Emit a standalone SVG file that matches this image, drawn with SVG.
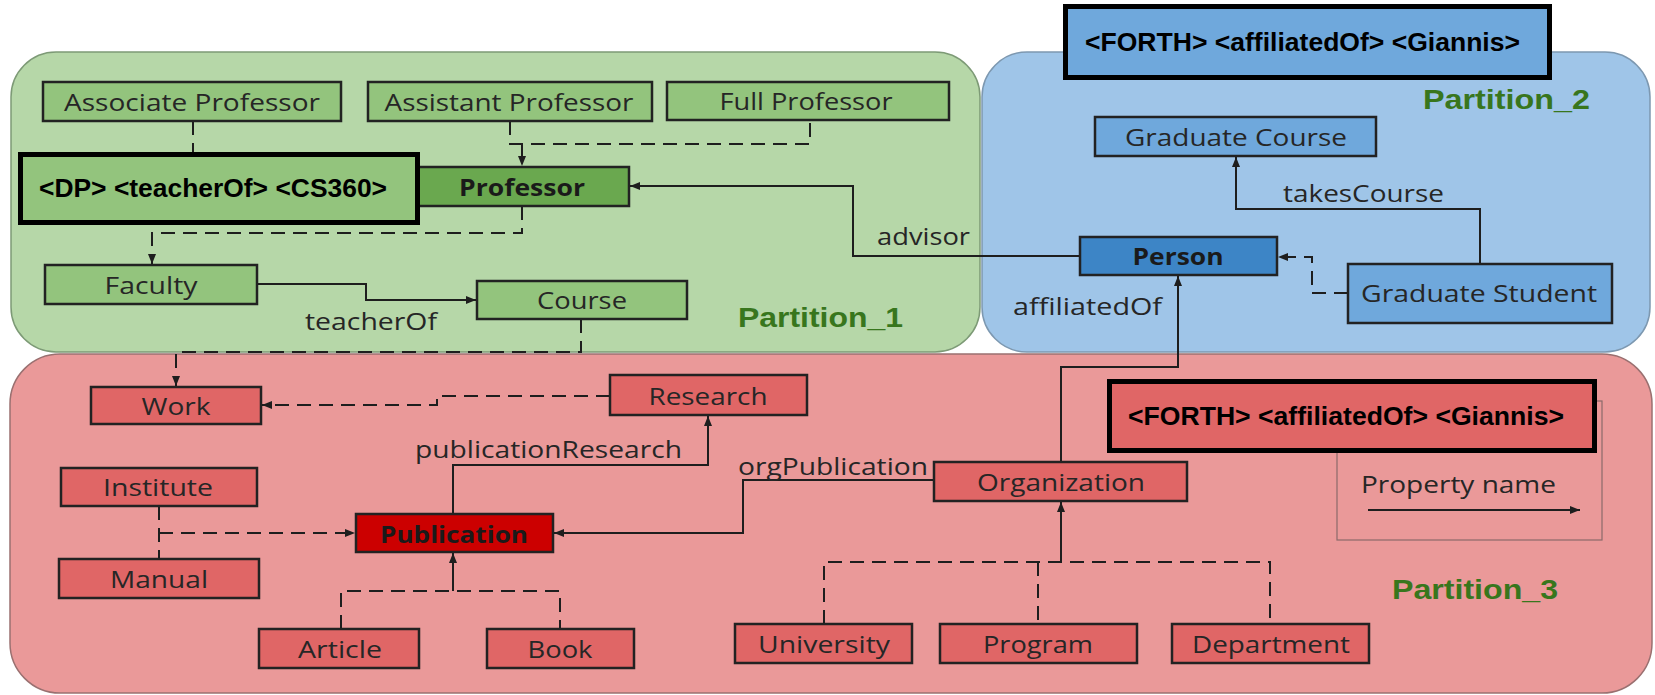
<svg xmlns="http://www.w3.org/2000/svg" width="1655" height="695" viewBox="0 0 1655 695">
<defs>
<style>
.pg{fill:#b6d7a8;stroke:#7d9a76;stroke-width:1.5}
.pb{fill:#9fc5e8;stroke:#7d98b0;stroke-width:1.5}
.pr{fill:#ea9999;stroke:#9a7070;stroke-width:1.5}
.n{stroke:#222;stroke-width:2.5}
.g{fill:#93c47d}.gd{fill:#6aa84f}.b{fill:#6fa8dc}.bd{fill:#3d85c6}.r{fill:#e06666}.rd{fill:#cc0000}
.t{font-family:"Open Sans","Noto Sans",sans-serif;font-size:23px;fill:#262626;text-anchor:middle}
.tb{font-weight:700;fill:#1a1a1a}
.l{font-family:"Open Sans","Noto Sans",sans-serif;font-size:23px;fill:#262626}
.pl{font-family:"Liberation Sans",Arial,sans-serif;font-weight:700;font-size:28px;fill:#38761d}
.ov{stroke:#000;stroke-width:5}
.ot{font-family:"Liberation Sans",Arial,sans-serif;font-weight:700;font-size:26px;fill:#000}
.c{fill:none;stroke:#1e1e1e;stroke-width:2}
.d{stroke-dasharray:14 8}
.a{marker-end:url(#ah)}
</style>
<marker id="ah" viewBox="0 0 10 10" refX="10" refY="5" markerWidth="10" markerHeight="10" markerUnits="userSpaceOnUse" orient="auto"><path d="M0,1 L10,5 L0,9 z" fill="#1e1e1e"/></marker>
</defs>

<g id="partitions">
<rect id="partition1" class="pg" x="11" y="52" width="969" height="300" rx="45"/>
<rect id="partition2" class="pb" x="982" y="52" width="668" height="300" rx="45"/>
<rect id="partition3" class="pr" x="10" y="354" width="1642" height="339" rx="50"/>
<text class="pl" x="738" y="327" textLength="165" lengthAdjust="spacingAndGlyphs">Partition_1</text>
<text class="pl" x="1423" y="109" textLength="167" lengthAdjust="spacingAndGlyphs">Partition_2</text>
<text class="pl" x="1392" y="599" textLength="166" lengthAdjust="spacingAndGlyphs">Partition_3</text>
</g>

<g id="legend">
<rect x="1337" y="401" width="265" height="139" fill="none" stroke="#8a6a6a" stroke-width="1.2"/>
<text class="l" x="1361" y="493" textLength="195" lengthAdjust="spacingAndGlyphs">Property name</text>
<path class="c a" d="M1368,510 H1580"/>
</g>

<g id="connectors">
<path class="c d" d="M510,121 V144 H810 V121"/>
<path class="c d a" d="M522,144 V166"/>
<path class="c d" d="M193,121 V154"/>
<path class="c d a" d="M522,206 V233 H152 V264"/>
<path class="c a" d="M257,284 H366 V300 H476"/>
<text class="l" x="305" y="330" textLength="132" lengthAdjust="spacingAndGlyphs">teacherOf</text>
<path class="c a" d="M1080,256 H853 V186 H630"/>
<text class="l" x="877" y="245" textLength="93" lengthAdjust="spacingAndGlyphs">advisor</text>
<path class="c a" d="M1480,264 V209 H1236 V157"/>
<text class="l" x="1283" y="202" textLength="161" lengthAdjust="spacingAndGlyphs">takesCourse</text>
<path class="c d a" d="M1348,293 H1312 V257 H1278"/>
<path class="c a" d="M1061,462 V367 H1178 V276"/>
<text class="l" x="1013" y="315" textLength="149" lengthAdjust="spacingAndGlyphs">affiliatedOf</text>
<path class="c d a" d="M581,319 V352 H176 V386"/>
<path class="c d a" d="M610,396 H437 V405 H262"/>
<path class="c a" d="M453,514 V465 H708 V416"/>
<text class="l" x="415" y="458" textLength="267" lengthAdjust="spacingAndGlyphs">publicationResearch</text>
<path class="c a" d="M934,480 H743 V533 H554"/>
<text class="l" x="738" y="475" textLength="190" lengthAdjust="spacingAndGlyphs">orgPublication</text>
<path class="c d" d="M159,506 V559"/>
<path class="c d a" d="M159,533 H355"/>
<path class="c d" d="M341,629 V591 H560 V629"/>
<path class="c a" d="M453,591 V553"/>
<path class="c d" d="M824,624 V562 H1270 V624"/>
<path class="c d" d="M1038,562 V624"/>
<path class="c a" d="M1061,562 V502"/>
</g>

<g id="associate-professor"><rect class="n g" x="43" y="82" width="298" height="39"/><text class="t" x="192" y="111" textLength="256" lengthAdjust="spacingAndGlyphs">Associate Professor</text></g>
<g id="assistant-professor"><rect class="n g" x="368" y="82" width="284" height="39"/><text class="t" x="509" y="111" textLength="249" lengthAdjust="spacingAndGlyphs">Assistant Professor</text></g>
<g id="full-professor"><rect class="n g" x="667" y="82" width="282" height="38"/><text class="t" x="806" y="110" textLength="173" lengthAdjust="spacingAndGlyphs">Full Professor</text></g>
<g id="professor"><rect class="n gd" x="415" y="167" width="214" height="39"/><text class="t tb" x="522" y="196" textLength="126" lengthAdjust="spacingAndGlyphs">Professor</text></g>
<g id="faculty"><rect class="n g" x="45" y="265" width="212" height="39"/><text class="t" x="151" y="294" textLength="93" lengthAdjust="spacingAndGlyphs">Faculty</text></g>
<g id="course"><rect class="n g" x="477" y="281" width="210" height="38"/><text class="t" x="582" y="309" textLength="90" lengthAdjust="spacingAndGlyphs">Course</text></g>

<g id="graduate-course"><rect class="n b" x="1095" y="117" width="281" height="39"/><text class="t" x="1236" y="146" textLength="222" lengthAdjust="spacingAndGlyphs">Graduate Course</text></g>
<g id="person"><rect class="n bd" x="1080" y="237" width="197" height="38"/><text class="t tb" x="1178" y="265" textLength="91" lengthAdjust="spacingAndGlyphs">Person</text></g>
<g id="graduate-student"><rect class="n b" x="1348" y="264" width="264" height="59"/><text class="t" x="1479" y="302" textLength="236" lengthAdjust="spacingAndGlyphs">Graduate Student</text></g>

<g id="work"><rect class="n r" x="91" y="387" width="170" height="37"/><text class="t" x="176" y="415" textLength="69" lengthAdjust="spacingAndGlyphs">Work</text></g>
<g id="research"><rect class="n r" x="610" y="375" width="197" height="40"/><text class="t" x="708" y="405" textLength="119" lengthAdjust="spacingAndGlyphs">Research</text></g>
<g id="institute"><rect class="n r" x="61" y="468" width="196" height="38"/><text class="t" x="158" y="496" textLength="110" lengthAdjust="spacingAndGlyphs">Institute</text></g>
<g id="publication"><rect class="n rd" x="356" y="514" width="197" height="38"/><text class="t tb" x="454" y="543" textLength="148" lengthAdjust="spacingAndGlyphs">Publication</text></g>
<g id="manual"><rect class="n r" x="59" y="559" width="200" height="39"/><text class="t" x="159" y="588" textLength="98" lengthAdjust="spacingAndGlyphs">Manual</text></g>
<g id="article"><rect class="n r" x="259" y="629" width="160" height="39"/><text class="t" x="340" y="658" textLength="84" lengthAdjust="spacingAndGlyphs">Article</text></g>
<g id="book"><rect class="n r" x="487" y="629" width="147" height="39"/><text class="t" x="560" y="658" textLength="65" lengthAdjust="spacingAndGlyphs">Book</text></g>
<g id="organization"><rect class="n r" x="934" y="462" width="253" height="39"/><text class="t" x="1061" y="491" textLength="168" lengthAdjust="spacingAndGlyphs">Organization</text></g>
<g id="university"><rect class="n r" x="735" y="624" width="177" height="39"/><text class="t" x="824" y="653" textLength="132" lengthAdjust="spacingAndGlyphs">University</text></g>
<g id="program"><rect class="n r" x="940" y="624" width="197" height="39"/><text class="t" x="1038" y="653" textLength="110" lengthAdjust="spacingAndGlyphs">Program</text></g>
<g id="department"><rect class="n r" x="1172" y="624" width="197" height="39"/><text class="t" x="1271" y="653" textLength="158" lengthAdjust="spacingAndGlyphs">Department</text></g>

<g id="triple-dp"><rect class="ov g" x="20.5" y="154.5" width="397" height="68"/><text class="ot" x="39" y="197" textLength="348" lengthAdjust="spacingAndGlyphs">&lt;DP&gt; &lt;teacherOf&gt; &lt;CS360&gt;</text></g>
<g id="triple-forth-blue"><rect class="ov b" x="1065.5" y="6.5" width="484" height="71"/><text class="ot" x="1085" y="51" textLength="435" lengthAdjust="spacingAndGlyphs">&lt;FORTH&gt; &lt;affiliatedOf&gt; &lt;Giannis&gt;</text></g>
<g id="triple-forth-red"><rect class="ov r" x="1109.5" y="381.5" width="485" height="69"/><text class="ot" x="1128" y="425" textLength="436" lengthAdjust="spacingAndGlyphs">&lt;FORTH&gt; &lt;affiliatedOf&gt; &lt;Giannis&gt;</text></g>
</svg>
